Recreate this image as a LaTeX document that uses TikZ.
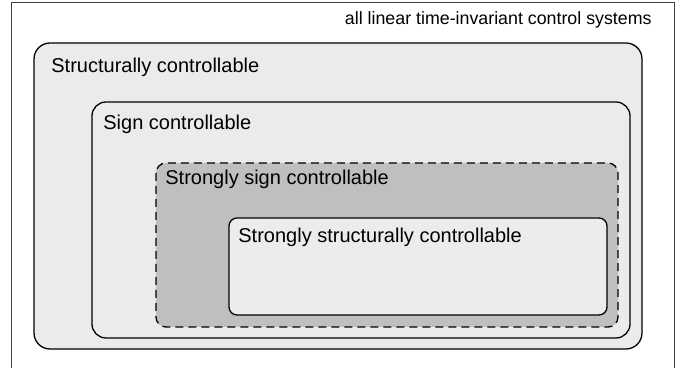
\documentclass[tikz,border=0pt]{standalone}
\usepackage{fontspec}
\setmainfont{Liberation Sans}
\usepackage{tikz}

\begin{document}
\begin{tikzpicture}[x=0.5pt, y=-0.5pt,
        region/.style={draw=black, line width=0.65pt},
        label/.style={anchor=base west, inner sep=0pt, font=\fontsize{10}{12}\selectfont}]
    % Define frame
        \useasboundingbox (0,0) rectangle (686,368);
        \draw[draw=black!75, line width=0.5pt] (11.5,372) -- (11.5,2.5) -- (674,2.5) -- (674,372);
        \node[anchor=base east, inner sep=0pt, font=\fontsize{8.9}{11}\selectfont] (lti) at (652,25) {all linear time-invariant control systems};
    % Draw regions
        \draw[region, fill=black!8, rounded corners=8pt] (34,43) rectangle (642,349);
        \draw[region, fill=black!8, rounded corners=7pt] (92,102) rectangle (630,338);
        \draw[region, fill=black!25, dashed, dash pattern=on 4pt off 2.5pt, rounded corners=5pt] (156,163) rectangle (618,327);
        \draw[region, fill=black!7.5, rounded corners=4pt] (229,218) rectangle (607,315);
    % Draw labels
        \node[label] (sc) at (51,73) {Structurally controllable};
        \node[label] (sgc) at (103,130) {Sign controllable};
        \node[label] (ssgc) at (165,185) {Strongly sign controllable};
        \node[label] (ssc) at (238,243) {Strongly structurally controllable};
    \end{tikzpicture}
\end{document}
